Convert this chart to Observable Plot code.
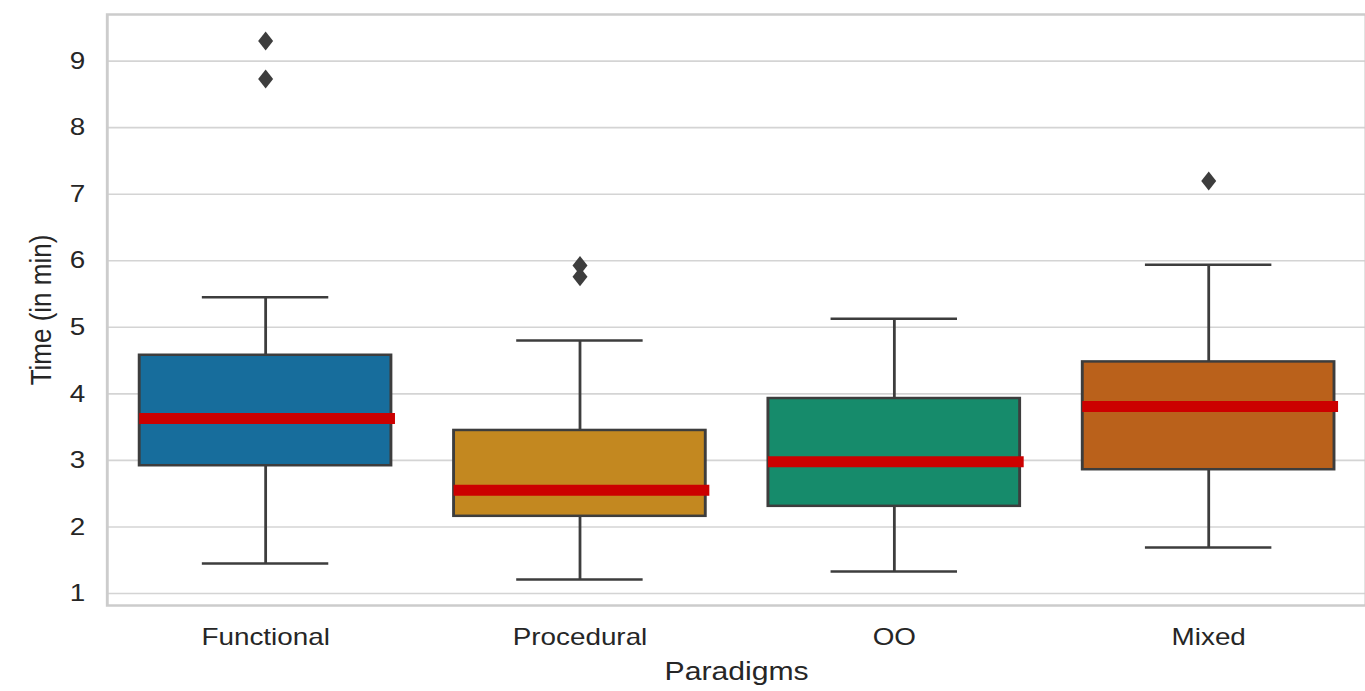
<!DOCTYPE html>
<html><head><meta charset="utf-8">
<script src="https://cdn.jsdelivr.net/npm/d3@7"></script>
<script src="https://cdn.jsdelivr.net/npm/@observablehq/plot@0.6"></script>
<style>
html,body{margin:0;padding:0;background:#fff;overflow:hidden}
#chart{width:1365px;height:691px;overflow:hidden}
#chart svg{transform:scaleX(1.16);transform-origin:0 0;display:block}
</style></head><body><div id="chart"></div>
<script>
const paradigms = ["Functional", "Procedural", "OO", "Mixed"];
const whiskerLow = [1.45, 1.21, 1.33, 1.69];
const q1 = [2.92, 2.16, 2.31, 2.86];
const median = [3.63, 2.55, 2.98, 3.81];
const q3 = [4.58, 3.45, 3.93, 4.48];
const whiskerHigh = [5.45, 4.80, 5.13, 5.94];
const outlierParadigm = ["Functional", "Functional", "Procedural", "Procedural", "Mixed"];
const outlierValue = [9.30, 8.73, 5.93, 5.76, 7.20];
const boxColors = ["#176d9c", "#c38820", "#168b6b", "#ba611b"];
const yTicks = [1, 2, 3, 4, 5, 6, 7, 8, 9];

const boxes = paradigms.map((p, i) => ({
  p, low: whiskerLow[i], q1: q1[i], med: median[i], q3: q3[i], high: whiskerHigh[i], color: boxColors[i]
}));
const outliers = outlierParadigm.map((p, i) => ({p, v: outlierValue[i]}));

const thinDiamond = {
  draw(context, size) {
    const h = Math.sqrt(size / Math.PI);
    const w = h * 0.68;
    context.moveTo(0, -h);
    context.lineTo(w, 0);
    context.lineTo(0, h);
    context.lineTo(-w, 0);
    context.closePath();
  }
};

const edge = "#3d3d3d";
const chart = Plot.plot({
  width: 1177,
  height: 691,
  marginLeft: 92,
  marginRight: 0,
  marginTop: 14,
  marginBottom: 86,
  style: {fontFamily: "'Liberation Sans', Arial, sans-serif", color: "#262626", background: "#ffffff"},
  x: {domain: paradigms, paddingInner: 0.2, paddingOuter: 0.1, label: null},
  y: {domain: [0.82, 9.70], label: null},
  color: {type: "identity"},
  marks: [
    Plot.gridY(yTicks, {stroke: "#d4d4d4", strokeOpacity: 1, strokeWidth: 1.6}),
    Plot.frame({stroke: "#cccccc", strokeWidth: 2.5}),
    Plot.ruleX(boxes, {x: "p", y1: "low", y2: "q1", stroke: edge, strokeWidth: 2.4}),
    Plot.ruleX(boxes, {x: "p", y1: "q3", y2: "high", stroke: edge, strokeWidth: 2.4}),
    Plot.tickY(boxes, {x: "p", y: "low", stroke: edge, strokeWidth: 2.5, insetLeft: 54, insetRight: 54}),
    Plot.tickY(boxes, {x: "p", y: "high", stroke: edge, strokeWidth: 2.5, insetLeft: 54, insetRight: 54}),
    Plot.barY(boxes, {x: "p", y1: "q1", y2: "q3", fill: "color", stroke: edge, strokeWidth: 2.5}),
    Plot.tickY(boxes, {x: "p", y: "med", stroke: "#cc0000", strokeWidth: 11, insetRight: -3.5}),
    Plot.dot(outliers, {x: "p", y: "v", symbol: thinDiamond, r: 9.5, fill: edge, stroke: null}),
    Plot.axisY(yTicks, {tickSize: 0, tickPadding: 19, fontSize: 24, tickFormat: d => String(d), label: null}),
    Plot.axisY([], {tickSize: 0, fontSize: 26, label: "Time (in min)", labelAnchor: "center", labelOffset: 67, labelArrow: "none"}),
    Plot.axisX(paradigms, {tickSize: 0, tickPadding: 22, fontSize: 24, label: null}),
    Plot.axisX([], {tickSize: 0, fontSize: 26, label: "Paradigms", labelAnchor: "center", labelOffset: 74, labelArrow: "none"})
  ]
});
document.getElementById("chart").appendChild(chart);
</script>
</body></html>
